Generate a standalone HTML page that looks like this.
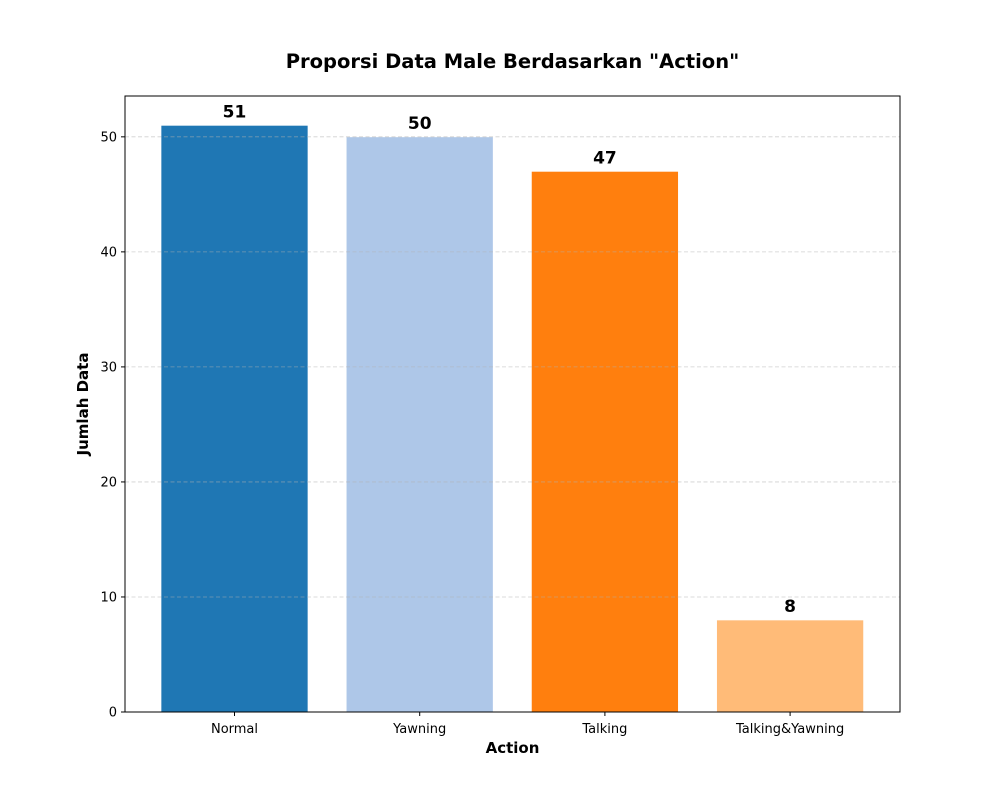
<!DOCTYPE html>
<html><head><meta charset="utf-8"><style>
body{margin:0;background:#fff;}
svg{display:block;font-family:"DejaVu Sans","Liberation Sans",sans-serif;}
</style></head><body>
<svg id="chart" width="1000" height="800"></svg>
<script>
const categories = ["Normal","Yawning","Talking","Talking&Yawning"];
const values = [51,50,47,8];
const colors = ["#1f77b4","#aec7e8","#ff7f0e","#ffbb78"];
const yTicks = [0,10,20,30,40,50];

const L=125,R=900,T=96,B=712;
const yMax = Math.max(...values)*1.05;
const y = v => B - v/yMax*(B-T);
const x0=234.5, step=185.2;
const x = i => x0 + i*step;
const bw = 147;
const NS="http://www.w3.org/2000/svg";
const svg=document.getElementById('chart');
function mk(tag,attrs,parent){const e=document.createElementNS(NS,tag);for(const k in attrs)e.setAttribute(k,attrs[k]);(parent||svg).appendChild(e);return e;}

const title=mk('text',{x:512.5,y:68,'text-anchor':'middle','font-size':19.5,'font-weight':'bold'});
title.textContent='Proporsi Data Male Berdasarkan "Action"';



categories.forEach((c,i)=>{
  const r=mk('rect',{x:x(i)-bw/2,y:y(values[i]),width:bw,height:B-y(values[i]),fill:colors[i],stroke:'#fff','stroke-width':0.7});
  
  
  const v=mk('text',{x:x(i),y:y(values[i])-8,'text-anchor':'middle','font-size':17,'font-weight':'bold'});
  v.textContent=values[i];
  
  
  mk('line',{x1:x(i),x2:x(i),y1:B,y2:B+4,stroke:'#000'});
  const xl=mk('text',{x:x(i),y:B+21,'text-anchor':'middle','font-size':13});
  xl.textContent=c;
  
  
});

yTicks.forEach(t=>{
  if(t>0){const g=mk('line',{x1:L,x2:R,y1:y(t),y2:y(t),stroke:'#b0b0b0','stroke-opacity':0.6,'stroke-width':0.8,'stroke-dasharray':'4,2.5'});
  
  }
  mk('line',{x1:L-4,x2:L,y1:y(t),y2:y(t),stroke:'#000'});
  const tl=mk('text',{x:L-8,y:y(t)+4.5,'text-anchor':'end','font-size':13});
  tl.textContent=t;
  
  
});

const frame=mk('rect',{x:L,y:T,width:R-L,height:B-T,fill:'none',stroke:'#000','stroke-width':1});



const xt=mk('text',{x:512.5,y:753,'text-anchor':'middle','font-size':15,'font-weight':'bold'});
xt.textContent='Action';


const yt=mk('text',{x:0,y:0,'text-anchor':'middle','font-size':15,'font-weight':'bold',transform:'translate(88,404) rotate(-90)'});
yt.textContent='Jumlah Data';


</script>
</body></html>
